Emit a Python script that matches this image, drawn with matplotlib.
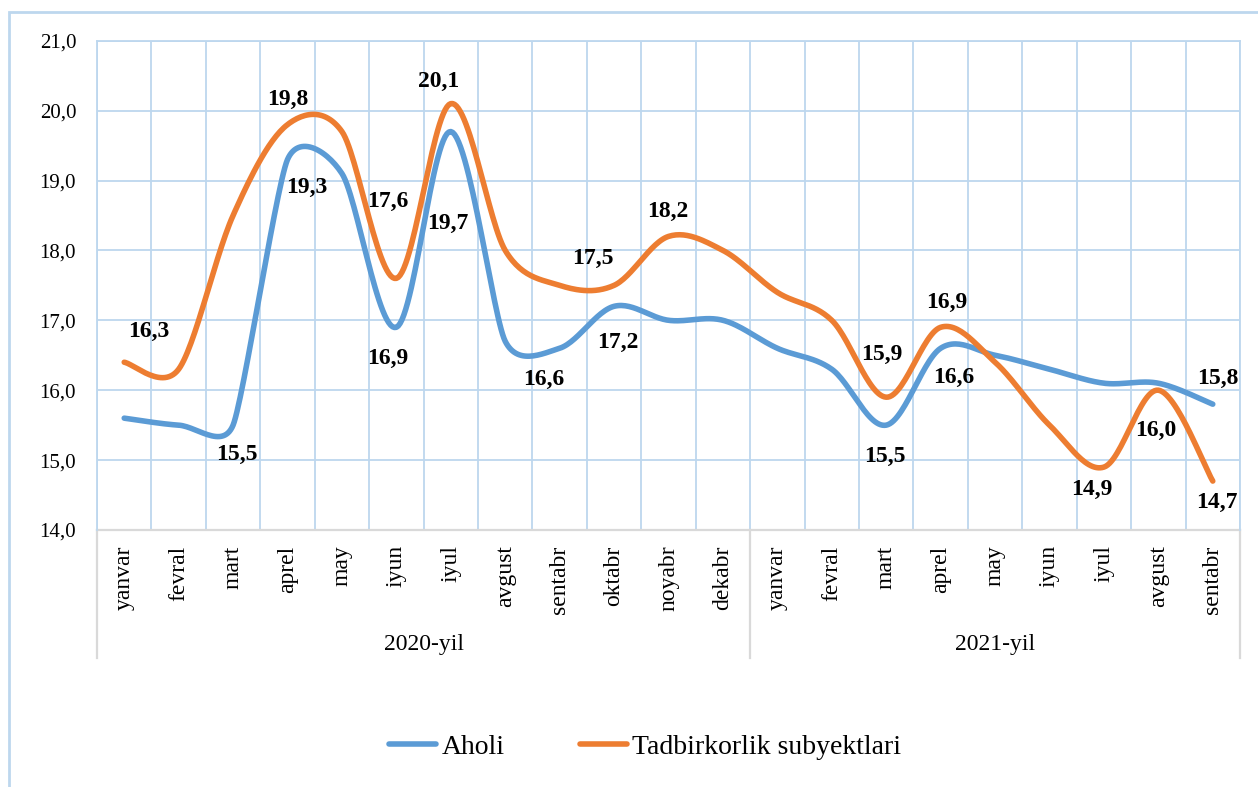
import matplotlib
matplotlib.use("Agg")
import matplotlib.pyplot as plt
import matplotlib.transforms as mtransforms
from matplotlib.lines import Line2D
from matplotlib.patches import Rectangle
import numpy as np

# Times-like look of the original
plt.rcParams['font.family'] = 'serif'
plt.rcParams['font.serif'] = ['Liberation Serif', 'Times New Roman', 'DejaVu Serif']

# --- data ---
months = ['yanvar', 'fevral', 'mart', 'aprel', 'may', 'iyun', 'iyul', 'avgust',
          'sentabr', 'oktabr', 'noyabr', 'dekabr',
          'yanvar', 'fevral', 'mart', 'aprel', 'may', 'iyun', 'iyul', 'avgust',
          'sentabr']
years = ['2020-yil', '2021-yil']
year_lengths = [12, 9]

aholi = [15.6, 15.5, 15.5, 19.3, 19.1, 16.9, 19.7, 16.7, 16.6, 17.2, 17.0, 17.0,
         16.6, 16.3, 15.5, 16.6, 16.5, 16.3, 16.1, 16.1, 15.8]
tadbirkor = [16.4, 16.3, 18.5, 19.8, 19.7, 17.6, 20.1, 18.0, 17.5, 17.5, 18.2, 18.0,
             17.4, 17.0, 15.9, 16.9, 16.4, 15.5, 14.9, 16.0, 14.7]

# points that carry a value label -> label offset in pixels (dx, dy)
aholi_labels = {2: (4, -29), 3: (19, -28), 5: (-9, -31), 6: (-3, -92), 8: (-16, -31),
                9: (4, -36), 14: (-1, -31), 15: (13, -29), 20: (5, 26)}
tadbir_labels = {1: (-30, 38), 3: (0, 25), 5: (-9, 77), 6: (-12, 22), 9: (-21, 27),
                 10: (-1, 25), 14: (-4, 43), 15: (6, 25), 18: (-12, -22),
                 19: (-3, -40), 20: (4, -21)}

blue = '#5B9BD5'
orange = '#ED7D31'
grid_c = '#BDD7EE'
axis_c = '#D9D9D9'

W, H = 1258, 787
fig = plt.figure(figsize=(W / 100, H / 100), dpi=100)
ax = fig.add_axes([97 / W, 1 - 530 / H, (1240 - 97) / W, (530 - 40.7) / H])

x = np.arange(len(months))
ax.set_xlim(-0.5, len(months) - 0.5)
ax.set_ylim(14, 21)


def smooth_excel(xs, ys, n=30):
    """Bezier smoothing like Excel's 'smoothed line', worked out in pixel space."""
    pts = ax.transData.transform(np.column_stack([xs, ys]))
    m = len(pts)
    c_out, c_in = [], []
    for i in range(m):
        t = pts[min(i + 1, m - 1)] - pts[max(i - 1, 0)]
        L = np.hypot(*t)
        arm = L / 6
        if i > 0:
            arm = min(arm, np.hypot(*(pts[i] - pts[i - 1])) / 2)
        if i < m - 1:
            arm = min(arm, np.hypot(*(pts[i + 1] - pts[i])) / 2)
        u = t / L if L > 0 else t
        c_out.append(pts[i] + u * arm)
        c_in.append(pts[i] - u * arm)
    s = np.linspace(0, 1, n)[:, None]
    parts = []
    for i in range(m - 1):
        p0, p1, p2, p3 = pts[i], c_out[i], c_in[i + 1], pts[i + 1]
        seg = (1 - s) ** 3 * p0 + 3 * (1 - s) ** 2 * s * p1 + 3 * (1 - s) * s ** 2 * p2 + s ** 3 * p3
        parts.append(seg if i == 0 else seg[1:])
    return ax.transData.inverted().transform(np.vstack(parts))


for vals, col in [(aholi, blue), (tadbirkor, orange)]:
    cur = smooth_excel(x, vals)
    ax.plot(cur[:, 0], cur[:, 1], color=col, lw=4.0, solid_capstyle='round', zorder=3)


def fmt(v):
    return f"{v:.1f}".replace('.', ',')


for vals, labs in [(aholi, aholi_labels), (tadbirkor, tadbir_labels)]:
    for i, (dx, dy) in labs.items():
        ax.annotate(fmt(vals[i]), (x[i], vals[i]), xytext=(dx, dy), textcoords='offset pixels',
                    ha='center', va='center', fontsize=17, fontweight='bold', zorder=4)

# grid
yt = np.arange(14, 22)
ax.set_yticks(yt)
ax.set_yticklabels([fmt(v) for v in yt], fontsize=15)
ax.set_xticks(x)
ax.set_xticklabels(months, rotation=90, fontsize=17)
ax.set_xticks(np.arange(-0.5, len(months)), minor=True)
ax.tick_params(axis='y', length=0, pad=15)
ax.tick_params(axis='x', which='both', length=0, pad=11)
ax.grid(axis='y', color=grid_c, lw=1.3, zorder=0)
ax.grid(axis='x', which='minor', color=grid_c, lw=1.3, zorder=0)
ax.grid(axis='x', which='major', visible=False)
for side in ['top', 'right', 'left']:
    ax.spines[side].set_color(grid_c)
    ax.spines[side].set_linewidth(1.3)
ax.spines['bottom'].set_color(axis_c)
ax.spines['bottom'].set_linewidth(1.6)
ax.spines['bottom'].set_zorder(2)

# two-level category axis: year separators and year names
trans = mtransforms.blended_transform_factory(ax.transData, ax.transAxes)
bounds = np.concatenate([[0], np.cumsum(year_lengths)]) - 0.5
for b in bounds:
    ax.plot([b, b], [0, -0.2616], transform=trans, color=axis_c, lw=1.6, clip_on=False)
for k, yr in enumerate(years):
    ax.text((bounds[k] + bounds[k + 1]) / 2, -0.235, yr, transform=trans,
            ha='center', va='center', fontsize=17)

# legend
handles = [Line2D([], [], color=blue, lw=4.0, solid_capstyle='round'),
           Line2D([], [], color=orange, lw=4.0, solid_capstyle='round')]
fig.legend(handles, ['Aholi', 'Tadbirkorlik subyektlari'], loc='center',
           bbox_to_anchor=(645 / W, 1 - 747 / H), ncol=2, frameon=False, fontsize=20,
           handlelength=1.7, handletextpad=0.2, columnspacing=2.7)

# chart border (cut off on the right and bottom in the original)
fig.add_artist(Rectangle((9 / W, -0.1), 1.2, 1.1 - 12 / H, transform=fig.transFigure,
                         fill=False, edgecolor=grid_c, lw=2))

fig.savefig('out.png', dpi=100)
